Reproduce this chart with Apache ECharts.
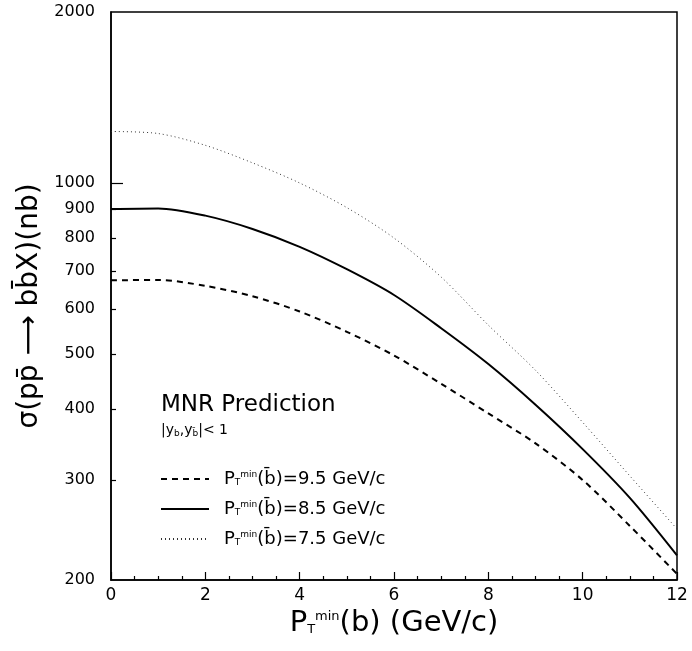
<!DOCTYPE html>
<html>
<head>
<meta charset="utf-8">
<script src="https://cdn.jsdelivr.net/npm/echarts@6/dist/echarts.min.js"></script>
</head>
<body style="margin:0;background:#fff">
<div id="main" style="width:692px;height:651px"></div>
<script>
// P_T^min(b) in GeV/c
var ptMin = [0, 1, 2, 3, 4, 5, 6, 7, 8, 9, 10, 11, 12];
// sigma in nb, one array per P_T^min(bbar) cut
var sigma95 = [674, 675, 659, 632, 594, 547, 497, 443, 393, 348, 300, 249, 205];
var sigma85 = [900, 902, 876, 830, 772, 705, 635, 555, 480, 407, 340, 279, 221];
var sigma75 = [1232, 1222, 1165, 1085, 1000, 905, 800, 683, 562, 468, 379, 305, 246];
var yLabels = [200, 300, 400, 500, 600, 700, 800, 900, 1000, 2000];
var yMinorTicks = [300, 400, 500, 600, 700, 800, 900];

function pairs(ys) {
    return ptMin.map(function (x, i) { return [x, ys[i]]; });
}

var font = 'DejaVu Sans';
var chart = echarts.init(document.getElementById('main'));

chart.setOption({
    animation: false,
    textStyle: { fontFamily: font, color: '#000' },
    grid: {
        left: 111, right: 15, top: 12, bottom: 71,
        show: true, borderColor: '#000', borderWidth: 1.5
    },
    title: {
        text: 'MNR Prediction',
        subtext: '{t||y}{s|b}{t|,y}{s|b̄}{t||< 1}',
        left: 156, top: 389, itemGap: 6,
        textStyle: { fontFamily: font, fontWeight: 'normal', fontSize: 23, color: '#000' },
        subtextStyle: {
            fontFamily: font, color: '#000',
            rich: {
                t: { fontSize: 14, fontFamily: font, color: '#000' },
                s: { fontSize: 9, fontFamily: font, color: '#000', padding: [6, 0, 0, 0] }
            }
        }
    },
    legend: {
        orient: 'vertical',
        left: 155, top: 465,
        itemWidth: 48, itemHeight: 14, itemGap: 12,
        itemStyle: { opacity: 0 },
        data: ['9.5', '8.5', '7.5'],
        formatter: function (name) {
            return '{p|P}{s|T}{m|min}{p|(b̄)=' + name + ' GeV/c}';
        },
        textStyle: {
            fontFamily: font, color: '#000', padding: [0, 0, 0, 10],
            rich: {
                p: { fontSize: 18, fontFamily: font, color: '#000' },
                s: { fontSize: 9, fontFamily: font, color: '#000', padding: [8, 0, 0, 0] },
                m: { fontSize: 9, fontFamily: font, color: '#000', padding: [0, 0, 8, 0] }
            }
        }
    },
    xAxis: {
        type: 'value', min: 0, max: 12, interval: 2,
        name: '{p|P}{s|T}{m|min}{p|(b) (GeV/c)}',
        nameLocation: 'middle', nameGap: 26,
        nameTextStyle: {
            rich: {
                p: { fontSize: 29, fontFamily: font, color: '#000' },
                s: { fontSize: 13, fontFamily: font, color: '#000', padding: [13, 0, 0, 0] },
                m: { fontSize: 13, fontFamily: font, color: '#000', padding: [0, 0, 13, 0] }
            }
        },
        axisLine: { lineStyle: { color: '#000', width: 1.5 } },
        axisTick: { inside: true, length: 8, lineStyle: { color: '#000', width: 1.2 } },
        minorTick: { show: true, splitNumber: 4, length: 4, lineStyle: { color: '#000', width: 1.2 } },
        axisLabel: { fontSize: 17, color: '#000', margin: 7, fontFamily: font },
        splitLine: { show: false }
    },
    yAxis: [{
        type: 'log', logBase: 10, min: 200, max: 2000,
        name: 'σ(pp̄ ⟶ bb̄X)(nb)',
        nameLocation: 'middle', nameGap: 60,
        nameTextStyle: { fontSize: 28, fontFamily: font, color: '#000', padding: [0, 20, 0, 0] },
        axisLine: { lineStyle: { color: '#000', width: 1.5 } },
        axisTick: { inside: true, length: 5, customValues: yMinorTicks, lineStyle: { color: '#000', width: 1.2 } },
        axisLabel: {
            fontSize: 16, color: '#000', margin: 16, fontFamily: font, customValues: yLabels,
            formatter: function (v) { return String(Math.round(v)); }
        },
        splitLine: { show: false }
    }, {
        type: 'log', logBase: 10, min: 200, max: 2000, position: 'left',
        axisLine: { show: false },
        axisTick: { inside: true, length: 12, customValues: [1000], lineStyle: { color: '#000', width: 1.2 } },
        axisLabel: { show: false },
        splitLine: { show: false }
    }],
    series: [{
        name: '9.5', type: 'line', data: pairs(sigma95), smooth: 0.3, symbol: 'none',
        lineStyle: { color: '#000', width: 2, type: [6, 5] }
    }, {
        name: '8.5', type: 'line', data: pairs(sigma85), smooth: 0.3, symbol: 'none',
        lineStyle: { color: '#000', width: 2 }
    }, {
        name: '7.5', type: 'line', data: pairs(sigma75), smooth: 0.3, symbol: 'none',
        lineStyle: { color: '#333', width: 1, type: [1, 3] }
    }]
});
</script>
</body>
</html>
